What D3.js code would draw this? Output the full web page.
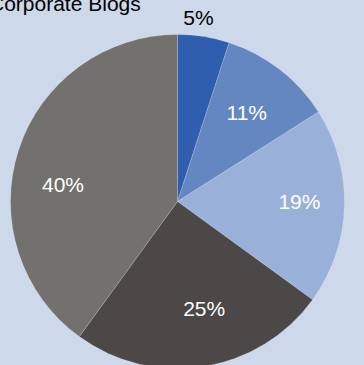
<!DOCTYPE html>
<html>
<head>
<meta charset="utf-8">
<script src="https://cdn.jsdelivr.net/npm/d3@7"></script>
<style>
  html, body { margin: 0; padding: 0; background: #cdd8ea; }
  svg { display: block; }
  text { font-family: "Liberation Sans", Arial, sans-serif; }
</style>
</head>
<body>
<svg id="chart" width="364" height="365"></svg>
<script>
// Share of corporate blogs by category
const categories = ["A", "B", "C", "D", "E"];
const shares = [5, 11, 19, 25, 40];
const sliceLabels = ["5%", "11%", "19%", "25%", "40%"];
const titleText = "Corporate Blogs";

// Presentation settings
const colors = ["#2e5ead", "#6587c1", "#99b0d8", "#4c4847", "#72716e"];
const labelColors = ["#000000", "#ffffff", "#ffffff", "#ffffff", "#ffffff"];
const labelOutside = [true, false, false, false, false];
const labelNudge = [[-7, 0], [0, 0], [9, -4], [9, -5], [-7, 18]];

const width = 364, height = 365;
const cx = 177.5, cy = 201.5, R = 167;

const svg = d3.select("#chart");
svg.append("rect").attr("width", width).attr("height", height).attr("fill", "#cdd8ea");

svg.append("text")
  .attr("x", -11).attr("y", 11)
  .attr("font-size", 21)
  .attr("fill", "#000")
  .text(titleText);

const pie = d3.pie().sort(null).value(d => d);
const arcs = pie(shares);
const arc = d3.arc().innerRadius(0).outerRadius(R);
const labelArcIn = d3.arc().innerRadius(113).outerRadius(113);
const labelArcOut = d3.arc().innerRadius(R + 12).outerRadius(R + 12);

const g = svg.append("g").attr("transform", `translate(${cx},${cy})`);

g.selectAll("path.slice")
  .data(arcs)
  .join("path")
  .attr("class", "slice")
  .attr("d", arc)
  .attr("fill", (d, i) => colors[i])
  .attr("stroke", "rgba(255,255,255,0.35)")
  .attr("stroke-width", 0.5);

g.selectAll("text.lbl")
  .data(arcs)
  .join("text")
  .attr("class", "lbl")
  .attr("font-size", 21)
  .attr("text-anchor", "middle")
  .attr("fill", (d, i) => labelColors[i])
  .attr("x", (d, i) => (labelOutside[i] ? labelArcOut : labelArcIn).centroid(d)[0] + labelNudge[i][0])
  .attr("y", (d, i) => {
    const c = (labelOutside[i] ? labelArcOut : labelArcIn).centroid(d);
    return c[1] + labelNudge[i][1] + (labelOutside[i] ? 0 : 7.5);
  })
  .text((d, i) => sliceLabels[i]);
</script>
</body>
</html>
